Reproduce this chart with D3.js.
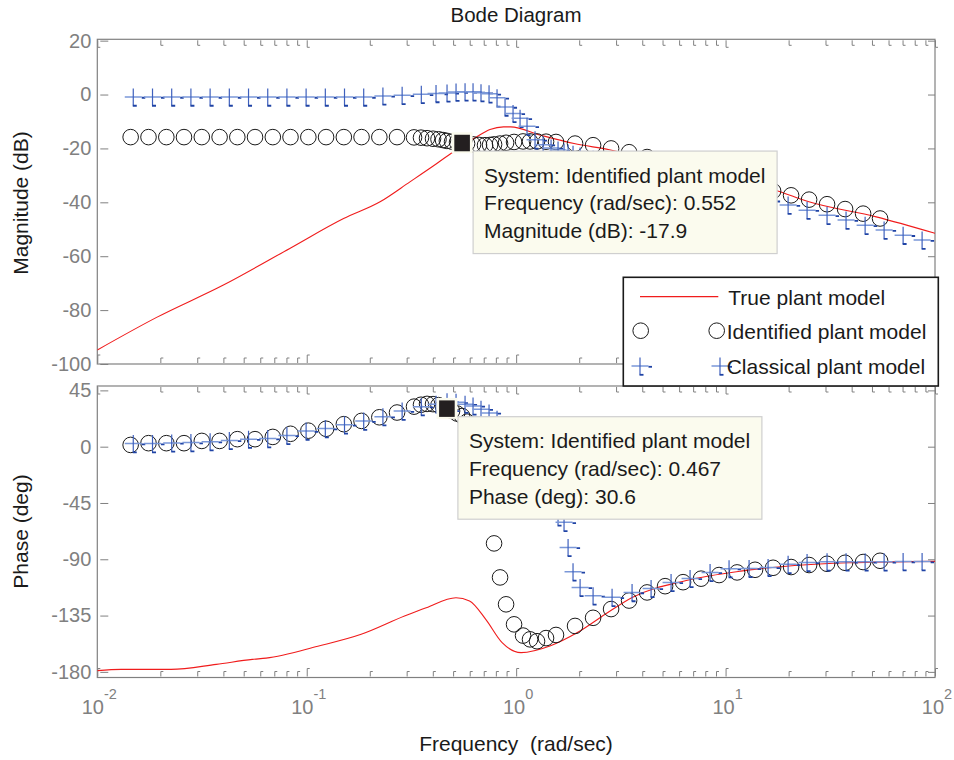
<!DOCTYPE html>
<html><head><meta charset="utf-8">
<script src="https://cdn.jsdelivr.net/npm/d3@7"></script>
<style>
body{margin:0;background:#fff;}
svg{display:block;font-family:"Liberation Sans",Arial,Helvetica,sans-serif;}
</style></head><body>
<svg id="chart" width="954" height="760"></svg>
<script>
// ---------- DATA ----------
const trueMagFreq = [0.01,0.0192,0.04,0.083,0.15,0.224,0.311,0.418,0.5,0.648,0.75,0.87,0.94,1.31,1.89,2.79,5,10,17.3,25,52.4,100];
const trueMagDb   = [-94.8,-82.7,-70.7,-57.1,-46,-39.8,-32.4,-25.6,-21.3,-15.7,-13,-12.0,-12.0,-15.1,-18.2,-20.5,-25.3,-31,-35.5,-39.8,-45.4,-51.5];

const truePhFreq = [0.01,0.013,0.0225,0.037,0.055,0.064,0.113,0.182,0.293,0.372,0.516,0.599,0.716,0.857,1.055,1.46,1.97,2.66,3.58,6.49,11.8,21.4,38.8,100];
const truePhDeg  = [-179,-178,-178,-174,-170,-169,-159.5,-150,-135.4,-128.7,-120.7,-123.3,-138,-156.6,-164.6,-159.1,-148.4,-134,-120.5,-107,-99.5,-95,-92.8,-91.7];

const idFreq = [0.01443,0.01756,0.02136,0.02594,0.03155,0.03837,0.04662,0.05664,0.06888,0.08367,0.1018,0.1237,0.1504,0.1827,0.2222,0.2699,0.3254,0.3513,0.3754,0.4010,0.4259,0.4476,0.467,0.4942,0.5222,0.552,0.5829,0.6225,0.6647,0.7102,0.7506,0.7844,0.8378,0.8951,0.9772,1.079,1.165,1.258,1.389,1.550,1.911,2.330,2.840,3.462,4.219,5.142,6.266,7.638,9.311,11.35,13.83,16.86,20.55,25.05,30.52,37.21,45.36,54.66];
const idMagDb = [-15.8,-15.8,-15.8,-15.8,-15.8,-15.8,-15.8,-15.8,-15.8,-15.8,-15.8,-15.8,-15.8,-15.8,-15.8,-15.8,-15.9,-16.0,-16.2,-16.4,-16.6,-16.9,-17.2,-17.5,-17.7,-17.9,-18.2,-18.5,-18.7,-18.8,-18.7,-18.5,-18.2,-17.9,-17.6,-17.4,-17.4,-17.4,-17.5,-17.6,-18.2,-18.8,-20.0,-21.4,-23.2,-25.0,-26.8,-28.6,-30.4,-32.2,-34.0,-35.8,-37.4,-39.0,-40.7,-42.5,-44.2,-46.0];
const idPhDeg = [1.4,2.8,2.8,2.8,4.6,4.6,6.0,6.0,7.8,10.3,12.8,14.3,18.0,20.6,23.5,27.3,32.0,33.5,34.2,34.0,33.2,32.0,30.6,28.5,26.5,24.5,20,12,0,-20,-48,-77.3,-104.5,-126,-142,-151,-154,-155.5,-153,-150.5,-143.3,-136.8,-129.8,-123,-116.5,-111.5,-108.3,-105.5,-102.6,-100.5,-98.4,-96.8,-96.2,-94.6,-93.6,-92.8,-92.2,-91.2];

const clFreq = [0.01485,0.01835,0.02266,0.02799,0.03457,0.04270,0.05274,0.06514,0.08043,0.09933,0.1227,0.1515,0.1871,0.2311,0.2855,0.3525,0.4144,0.4677,0.5164,0.5702,0.6225,0.6795,0.7423,0.8105,0.8851,0.9665,1.044,1.127,1.231,1.345,1.468,1.585,1.693,1.770,1.869,2.020,2.330,2.871,3.577,4.409,5.492,6.768,8.433,10.39,12.95,15.96,19.89,24.50,30.52,37.61,46.38,57.15,70.43,86.78];
const clMagDb = [-0.9,-0.9,-0.9,-0.9,-0.9,-0.9,-0.9,-0.9,-0.9,-0.9,-0.9,-0.9,-0.9,-0.5,-0.3,0.1,0.4,0.6,0.9,1.0,1.0,0.7,0.3,-1.2,-4.6,-7.0,-8.8,-11.8,-16.8,-18.6,-19.8,-20.6,-21.3,-21.7,-22.2,-22.8,-24.0,-25.6,-27.3,-29.0,-30.8,-32.6,-34.4,-36.2,-37.9,-39.4,-41.0,-42.9,-44.8,-46.6,-48.5,-50.3,-52.2,-54.0];
const clPhDeg = [2.5,2.5,3.0,3.3,4.0,5.0,6.0,6.5,9.0,12.5,14.5,17.5,20.5,24.0,28.5,32.0,34.0,36.0,35.5,34.0,32.6,30.0,27.0,22.0,16.0,8.0,-2.0,-14.0,-28.0,-40.0,-50.0,-56.0,-60.5,-80.5,-100.0,-112.5,-119.2,-120.4,-116.5,-113.3,-108.5,-105.3,-100.5,-97.5,-97.3,-96.5,-94.0,-92.5,-92.0,-92.0,-92.0,-92.0,-91.8,-91.8];

const magTicks = [-100,-80,-60,-40,-20,0,20];
const phaseTicks = [-180,-135,-90,-45,0,45];
const decadeTicks = [0.01,0.1,1,10,100];
const decadeExp = ["-2","-1","0","1","2"];
const legendLabels = ["True plant model","Identified plant model","Classical plant model"];
const tipMag = {freq:0.552, val:-17.9, lines:["System: Identified plant model","Frequency (rad/sec): 0.552","Magnitude (dB): -17.9"]};
const tipPh  = {freq:0.467, val:30.6,  lines:["System: Identified plant model","Frequency (rad/sec): 0.467","Phase (deg): 30.6"]};

// ---------- LAYOUT ----------
const svg = d3.select("#chart");
const X0 = 97.3, X1 = 935;
const magTop = 39.3, magBot = 364, phTop = 386, phBot = 677.5;
const GRAY = "#808080", RED = "#f01c1c";
const x  = d3.scaleLog().domain([0.01,100]).range([X0,X1]);
const yM = d3.scaleLinear().domain([-100,20.5]).range([magBot,magTop]);
const yP = d3.scaleLinear().domain([-184.5,48.5]).range([phBot,phTop]);

svg.append("rect").attr("width",954).attr("height",760).attr("fill","#fff");

const isMajor = d => Math.abs(Math.log10(d) - Math.round(Math.log10(d))) < 1e-9;

function frame(y, top, bot, yTicks, withXLabels, id){
  const g = svg.append("g");
  g.append("rect").attr("x",X0).attr("y",top).attr("width",X1-X0).attr("height",bot-top)
    .attr("fill","#fff").attr("stroke",GRAY).attr("stroke-width",1.2);
  const defs = svg.append("defs");
  defs.append("clipPath").attr("id",id).append("rect").attr("x",X0).attr("y",top).attr("width",X1-X0).attr("height",bot-top);

  const la = g.append("g").attr("transform",`translate(${X0},0)`)
    .call(d3.axisLeft(y).tickValues(yTicks).tickSizeInner(-10).tickSizeOuter(0).tickPadding(6).tickFormat(d=>String(d)));
  la.select(".domain").remove();
  la.selectAll(".tick line").attr("stroke",GRAY).attr("x1",3).attr("x2",11);
  la.selectAll(".tick text").attr("fill",GRAY).attr("font-size",20).attr("font-family","Liberation Sans, Arial, sans-serif");

  const ra = g.append("g").attr("transform",`translate(${X1},0)`)
    .call(d3.axisRight(y).tickValues(yTicks).tickSizeInner(-7).tickSizeOuter(0).tickFormat(""));
  ra.select(".domain").remove();
  ra.selectAll(".tick line").attr("stroke",GRAY);

  const allX = x.ticks();
  const ta = g.append("g").attr("transform",`translate(0,${top})`)
    .call(d3.axisTop(x).tickValues(allX).tickSizeInner(-5).tickSizeOuter(0).tickFormat(""));
  ta.select(".domain").remove();
  ta.selectAll(".tick line").attr("stroke",GRAY).attr("y1",1).attr("y2",d=>isMajor(d)?8:6);
  ta.selectAll(".tick").append("line").attr("stroke",GRAY).attr("x1",0).attr("x2",2.5)
    .attr("y1",d=>isMajor(d)?8:6).attr("y2",d=>isMajor(d)?8:6);

  const ba = g.append("g").attr("transform",`translate(0,${bot})`)
    .call(d3.axisBottom(x).tickValues(allX).tickSizeInner(-5).tickSizeOuter(0).tickFormat(""));
  ba.select(".domain").remove();
  ba.selectAll(".tick line").attr("stroke",GRAY).attr("y1",-1).attr("y2",d=>isMajor(d)?-9:-6);
  ba.selectAll(".tick").append("line").attr("stroke",GRAY).attr("x1",0).attr("x2",2.5)
    .attr("y1",d=>isMajor(d)?-9:-6).attr("y2",d=>isMajor(d)?-9:-6);

  if(withXLabels){
    decadeTicks.forEach((d,i)=>{
      const t = g.append("text").attr("x",x(d)+2).attr("y",bot+36.5).attr("text-anchor","middle")
        .attr("fill",GRAY).attr("font-size",20);
      t.append("tspan").text("10");
      t.append("tspan").attr("dy",-15).attr("font-size",14.5).text(decadeExp[i]);
    });
  }
  return g;
}

frame(yM, magTop, magBot, magTicks, false, "clipM");
frame(yP, phTop, phBot, phaseTicks, true, "clipP");

// ---------- MARKERS ----------
function drawPlus(g, px, py){
  g.append("line").attr("x1",px-8.5).attr("x2",px+8.5).attr("y1",py).attr("y2",py)
    .attr("stroke","#7a97d8").attr("stroke-width",1.5);
  g.append("line").attr("x1",px).attr("x2",px).attr("y1",py-8.5).attr("y2",py+8.5)
    .attr("stroke","#3e60bd").attr("stroke-width",1.2);
  g.append("line").attr("x1",px+8.5).attr("x2",px+12).attr("y1",py+0.8).attr("y2",py+0.8)
    .attr("stroke","#1f43a5").attr("stroke-width",1.8);
  g.append("line").attr("x1",px-0.5).attr("x2",px+3.5).attr("y1",py+8.8).attr("y2",py+8.8)
    .attr("stroke","#1f43a5").attr("stroke-width",1.8);
}
function drawCircle(g, px, py){
  g.append("circle").attr("cx",px).attr("cy",py).attr("r",7.8)
    .attr("fill","none").attr("stroke","#1a1a1a").attr("stroke-width",1);
}

function plotPanel(y, clip, trueF, trueV, idV, clV){
  const g = svg.append("g").attr("clip-path",`url(#${clip})`);
  g.append("path").datum(d3.zip(trueF,trueV))
    .attr("d", d3.line().curve(d3.curveMonotoneX).x(d=>x(d[0])).y(d=>y(d[1])))
    .attr("fill","none").attr("stroke",RED).attr("stroke-width",1.1);
  idFreq.forEach((f,i)=>drawCircle(g, x(f), y(idV[i])));
  clFreq.forEach((f,i)=>drawPlus(g, x(f), y(clV[i])));
}
plotPanel(yM, "clipM", trueMagFreq, trueMagDb, idMagDb, clMagDb);
plotPanel(yP, "clipP", truePhFreq, truePhDeg, idPhDeg, clPhDeg);

// ---------- DATA TIPS ----------
function dataTip(tip, y){
  const mx = x(tip.freq), my = y(tip.val);
  const g = svg.append("g");
  const bx = mx+11, by = my+8.3;
  g.append("rect").attr("x",bx).attr("y",by).attr("width",304).attr("height",102.5)
    .attr("fill","#fbfbee").attr("stroke","#cfcfcf").attr("stroke-width",1.2);
  tip.lines.forEach((s,i)=>{
    g.append("text").attr("x",bx+11).attr("y",by+31.5+i*27.8).attr("font-size",21)
      .attr("fill","#1a1a1a").text(s);
  });
  g.append("rect").attr("x",mx-10.5).attr("y",my-10.5).attr("width",21).attr("height",21).attr("fill","#fbfbee");
  g.append("rect").attr("x",mx-7.8).attr("y",my-8).attr("width",15.6).attr("height",16.5).attr("fill","#231f20");
}
dataTip(tipMag, yM);
dataTip(tipPh, yP);

// ---------- LEGEND ----------
const lg = svg.append("g");
lg.append("rect").attr("x",623.3).attr("y",277.3).attr("width",315).attr("height",108.7)
  .attr("fill","#fff").attr("stroke","#1a1a1a").attr("stroke-width",1.6);
lg.append("line").attr("x1",640).attr("x2",718.3).attr("y1",296.7).attr("y2",296.7)
  .attr("stroke",RED).attr("stroke-width",1.2);
drawCircle(lg, 640.7, 330.7); drawCircle(lg, 716.7, 330.7);
drawPlus(lg, 640, 366); drawPlus(lg, 720, 366);
[305, 339, 374].forEach((yy,i)=>{
  lg.append("text").attr("x", i===0?728.3:726.7).attr("y",yy).attr("font-size",21)
    .attr("fill","#1a1a1a").text(legendLabels[i]);
});

// ---------- TITLES ----------
svg.append("text").attr("x",516).attr("y",22).attr("text-anchor","middle").attr("font-size",20.5)
  .attr("fill","#1a1a1a").text("Bode Diagram");
svg.append("text").attr("x",516).attr("y",751).attr("text-anchor","middle").attr("font-size",21)
  .attr("fill","#1a1a1a").style("white-space","pre").text("Frequency  (rad/sec)");
svg.append("text").attr("transform","translate(28,203) rotate(-90)").attr("text-anchor","middle")
  .attr("font-size",21).attr("fill","#1a1a1a").text("Magnitude (dB)");
svg.append("text").attr("transform","translate(28,531.5) rotate(-90)").attr("text-anchor","middle")
  .attr("font-size",21).attr("fill","#1a1a1a").text("Phase (deg)");
</script></body></html>
